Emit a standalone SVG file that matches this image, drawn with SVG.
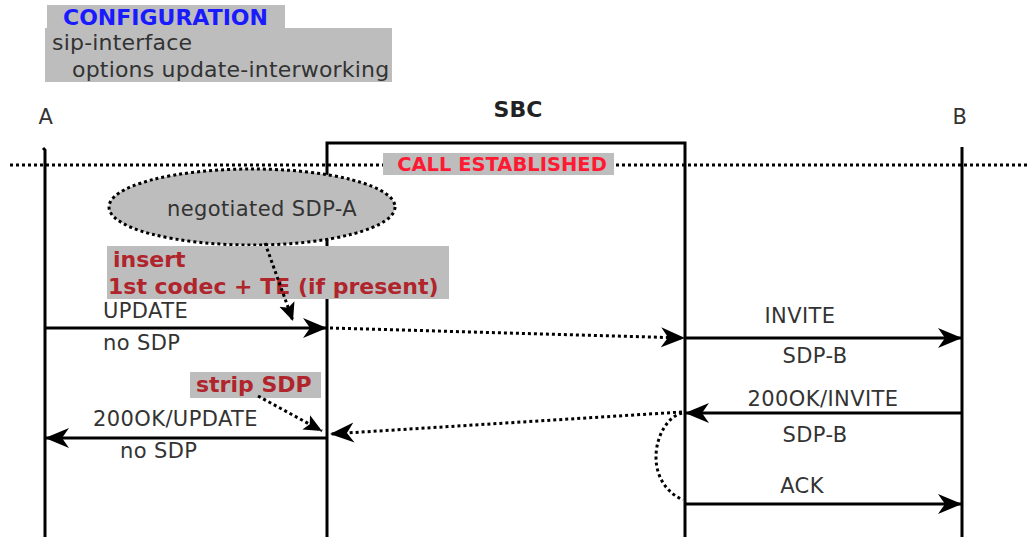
<svg xmlns="http://www.w3.org/2000/svg" width="1029" height="537" viewBox="0 0 1029 537">
<style>
.bg{fill:#fff}
.gbox{fill:#bdbdbd}
.life{stroke:#000;stroke-width:3;fill:none}
.msg{stroke:#000;stroke-width:3;fill:none}
.dot{stroke:#000;stroke-width:3;fill:none;stroke-dasharray:3 3}
.t{font-family:"DejaVu Sans",Verdana,sans-serif;fill:#333;font-size:21px;letter-spacing:0.4px}
.c{font-family:"DejaVu Sans",Verdana,sans-serif;fill:#333;font-size:22px;letter-spacing:0.2px}
.cfg{font-family:"DejaVu Sans",Verdana,sans-serif;font-weight:bold;fill:#1a1aff;font-size:22px}
.red{font-family:"DejaVu Sans",Verdana,sans-serif;font-weight:bold;fill:#b0242c;font-size:22px}
.call{font-family:"DejaVu Sans",Verdana,sans-serif;font-weight:bold;fill:#ff1a33;font-size:19.5px}
.bold{font-family:"DejaVu Sans",Verdana,sans-serif;font-weight:bold;fill:#222;font-size:22px}
</style>
<defs>
<marker id="ah" markerUnits="userSpaceOnUse" markerWidth="26" markerHeight="22" viewBox="0 -11 26 22" refX="24" refY="0" orient="auto">
<path d="M0,-10 L24,0 L0,10 L7,0 Z" fill="#000"/>
</marker>
<marker id="ahs" markerUnits="userSpaceOnUse" markerWidth="20" markerHeight="18" viewBox="0 -9 20 18" refX="18" refY="0" orient="auto">
<path d="M0,-8 L18,0 L0,8 L4,0 Z" fill="#000"/>
</marker>
</defs>
<rect class="bg" width="1029" height="537"/>

<g id="config">
<rect class="gbox" x="47" y="5" width="238" height="24"/>
<rect class="gbox" x="45" y="28" width="347" height="54"/>
<text class="cfg" x="63" y="25">CONFIGURATION</text>
<text class="c" x="52" y="50">sip-interface</text>
<text class="c" x="72" y="77">options update-interworking</text>
</g>

<g id="A">
<text class="t" x="46" y="124" text-anchor="middle">A</text>
<path class="life" d="M43,148 L45,150 L45,537"/>
</g>
<g id="SBC">
<text class="bold" x="518" y="117" text-anchor="middle">SBC</text>
<path class="life" d="M327,537 L327,143 L685,143 L685,537"/>
</g>
<g id="B">
<text class="t" x="960" y="124" text-anchor="middle">B</text>
<line class="life" x1="962" y1="147" x2="962" y2="537"/>
</g>

<g id="call-established">
<line class="dot" x1="10" y1="165" x2="1029" y2="165"/>
<rect class="gbox" x="383" y="153" width="231" height="22"/>
<text class="call" x="502" y="171" text-anchor="middle">CALL ESTABLISHED</text>
</g>

<g id="negotiated">
<ellipse cx="252" cy="207" rx="143" ry="38" fill="#bdbdbd" stroke="#000" stroke-width="3" stroke-dasharray="3 3"/>
<text class="t" x="262" y="216" text-anchor="middle">negotiated SDP-A</text>
</g>

<g id="insert">
<rect class="gbox" x="107" y="246" width="342" height="53"/>
<text class="red" x="113" y="267">insert</text>
<text class="red" x="108" y="294">1st codec + TE (if present)</text>
</g>

<g id="strip">
<rect class="gbox" x="190" y="372" width="131" height="26"/>
<text class="red" x="196" y="392">strip SDP</text>
</g>

<g id="connectors">
<path class="dot" d="M265,243 L293,321" marker-end="url(#ahs)"/>
<line class="msg" x1="45" y1="328" x2="327" y2="328" marker-end="url(#ah)"/>
<path class="dot" d="M330,328 L685,338" marker-end="url(#ah)"/>
<line class="msg" x1="685" y1="338" x2="962" y2="338" marker-end="url(#ah)"/>
<line class="msg" x1="962" y1="413" x2="685" y2="413" marker-end="url(#ah)"/>
<path class="dot" d="M682,413 C655,420 640,480 683,500"/>
<path class="dot" d="M682,412 L330,434" marker-end="url(#ah)"/>
<line class="msg" x1="327" y1="438" x2="45" y2="438" marker-end="url(#ah)"/>
<path class="dot" d="M258,396 L322,431" marker-end="url(#ahs)"/>
<line class="msg" x1="685" y1="504" x2="962" y2="504" marker-end="url(#ah)"/>
</g>

<g id="labels">
<text class="t" x="103" y="318">UPDATE</text>
<text class="t" x="103" y="350">no SDP</text>
<text class="t" x="800" y="323" text-anchor="middle">INVITE</text>
<text class="t" x="815" y="363" text-anchor="middle">SDP-B</text>
<text class="t" x="823" y="406" text-anchor="middle">200OK/INVITE</text>
<text class="t" x="815" y="442" text-anchor="middle">SDP-B</text>
<text class="t" x="802" y="493" text-anchor="middle">ACK</text>
<text class="t" x="93" y="426">200OK/UPDATE</text>
<text class="t" x="120" y="458">no SDP</text>
</g>
</svg>
